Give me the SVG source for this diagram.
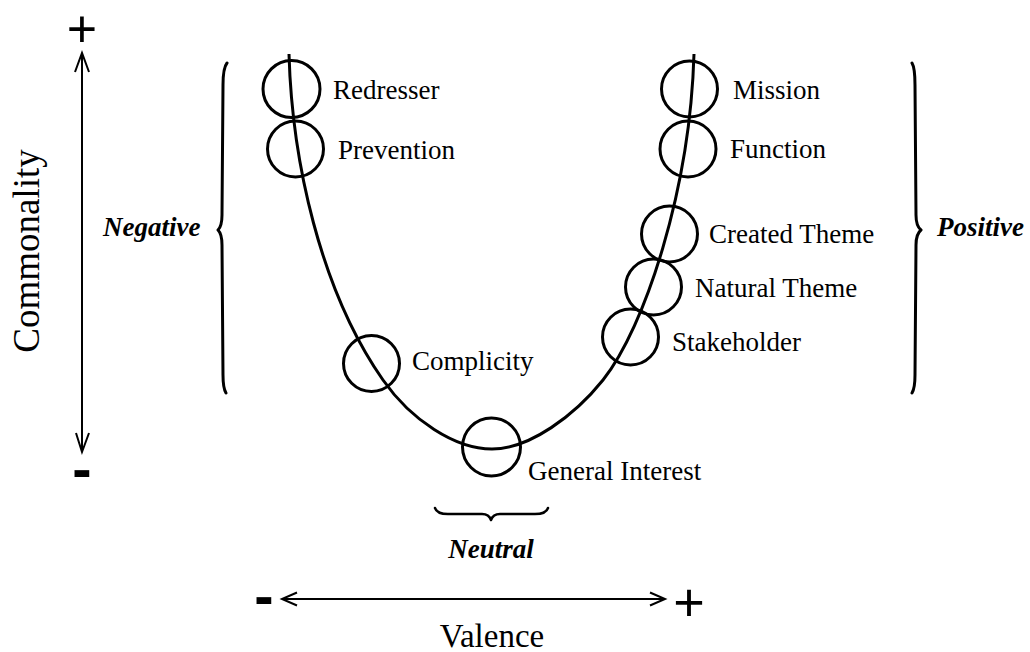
<svg xmlns="http://www.w3.org/2000/svg" width="1030" height="652" viewBox="0 0 1030 652">
<style>
.lbl{font-family:"Liberation Serif","Times New Roman",serif;font-size:27px;fill:#000}
.grp{font-family:"Liberation Serif","Times New Roman",serif;font-size:27px;font-weight:bold;font-style:italic;fill:#000}
.axis{font-family:"Liberation Serif","Times New Roman",serif;font-size:37px;fill:#000}
.sign{font-family:"Liberation Sans",Arial,sans-serif;fill:#000}
.node circle{fill:none;stroke:#000;stroke-width:3}
.curve{fill:none;stroke:#000;stroke-width:3}
.ax{fill:none;stroke:#000;stroke-width:2}
.brace{fill:none;stroke:#000;stroke-width:3;stroke-linecap:round;stroke-linejoin:round}
</style>
<rect width="1030" height="652" fill="#fff"/>
<g id="connectors">
<path class="curve" d="M289,54 C292,160 320,290 383,380 C411,420 455,449 492,449 C530,449 575,415 603,380 C645,327 690,190 694,54"/>
<path class="ax" d="M82,53 L82,452 M75,72 L82,53 L89,72 M76,433 L82,452 L89,433"/>
<path class="ax" d="M282,599 L665,599 M297,592.5 L282,599 L297,605.5 M650,592.5 L665,599 L650,605.5"/>
</g>
<g id="axis-labels">
<text class="sign" x="82" y="47" font-size="52" text-anchor="middle">+</text>
<text class="sign" x="82" y="489" font-size="58" font-weight="bold" text-anchor="middle">-</text>
<text class="sign" x="264" y="616" font-size="58" font-weight="bold" text-anchor="middle">-</text>
<text class="sign" x="689" y="621" font-size="54" text-anchor="middle">+</text>
<text class="axis" transform="translate(39,251) rotate(-90)" text-anchor="middle">Commonality</text>
<text class="axis" x="492" y="647" text-anchor="middle" style="font-size:33px">Valence</text>
</g>
<g id="group-negative">
<path class="brace" d="M227,63 Q223,68 223,85 L222,215 Q222,226 218,230 Q222,234 222,245 L223,375 Q223,388 226,393"/>
<text class="grp" x="103" y="236">Negative</text>
</g>
<g id="group-positive">
<path class="brace" d="M912,63 Q915,68 915,85 L916,215 Q916,226 921,230 Q916,234 916,245 L915,375 Q915,388 912,393"/>
<text class="grp" x="937" y="236">Positive</text>
</g>
<g id="group-neutral">
<path class="brace" style="stroke-width:2.5" d="M435,508 Q437,514 448,514 L482,514 Q489,514 491,520 Q493,514 500,514 L535,514 Q546,514 548,508"/>
<text class="grp" x="491" y="558" text-anchor="middle">Neutral</text>
</g>
<g id="node-redresser" class="node"><circle cx="291.5" cy="89" r="28.5"/><text class="lbl" x="333" y="99">Redresser</text></g>
<g id="node-prevention" class="node"><circle cx="295.5" cy="149" r="28"/><text class="lbl" x="338" y="159">Prevention</text></g>
<g id="node-complicity" class="node"><circle cx="371.5" cy="363.5" r="28"/><text class="lbl" x="412" y="370">Complicity</text></g>
<g id="node-general-interest" class="node"><circle cx="491.5" cy="447" r="29"/><text class="lbl" x="528" y="480">General Interest</text></g>
<g id="node-stakeholder" class="node"><circle cx="630.5" cy="337" r="28"/><text class="lbl" x="672" y="351">Stakeholder</text></g>
<g id="node-natural-theme" class="node"><circle cx="653.5" cy="287" r="28"/><text class="lbl" x="695" y="297">Natural Theme</text></g>
<g id="node-created-theme" class="node"><circle cx="669.5" cy="234" r="28"/><text class="lbl" x="709" y="243">Created Theme</text></g>
<g id="node-function" class="node"><circle cx="688" cy="149" r="28"/><text class="lbl" x="730" y="158">Function</text></g>
<g id="node-mission" class="node"><circle cx="689.5" cy="89" r="28"/><text class="lbl" x="733" y="99">Mission</text></g>
</svg>
